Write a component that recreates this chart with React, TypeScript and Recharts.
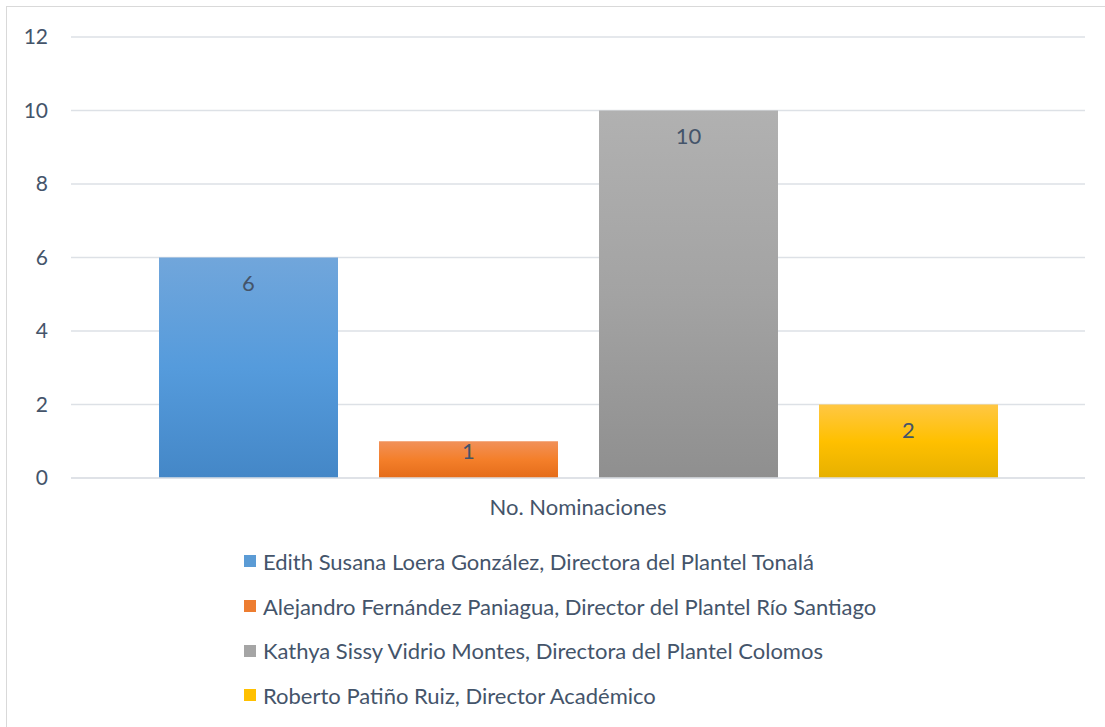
import React from 'react'
import { BarChart, Bar, XAxis, YAxis, CartesianGrid, Legend, LabelList } from 'recharts'

const category = 'No. Nominaciones'
const seriesNames = [
  'Edith Susana Loera González, Directora del Plantel Tonalá',
  'Alejandro Fernández Paniagua, Director del Plantel Río Santiago',
  'Kathya Sissy Vidrio Montes, Directora del Plantel Colomos',
  'Roberto Patiño Ruiz, Director Académico',
]
const seriesValues = [6, 1, 10, 2]
const yTicks = [0, 2, 4, 6, 8, 10, 12]

// gradient stops top / middle / bottom for each series
const gradients = [
  ['#71A6DB', '#559BDC', '#4487C7'],
  ['#F1915A', '#F47F2A', '#E46C1A'],
  ['#B1B1B1', '#A3A3A3', '#8F8F8F'],
  ['#FFC744', '#FFC000', '#E6B000'],
]
const swatch = ['#5B9BD5', '#ED7D31', '#A5A5A5', '#FFC000']

const TEXT = '#44546A'
const FONT = 'Lato, "Open Sans", sans-serif'

const row: Record<string, string | number> = { name: category }
seriesValues.forEach((v, i) => {
  row['s' + i] = v
})
const data = [row]

const renderValue = (props: any) => {
  const { x, y, width, height, value } = props
  const cy = y + Math.min(25, height / 2 - 9)
  return (
    <text
      x={x + width / 2}
      y={cy}
      textAnchor="middle"
      dominantBaseline="central"
      fill={TEXT}
      fontSize={22}
      fontFamily={FONT}
    >
      {value}
    </text>
  )
}

const renderLegend = () => (
  <div style={{ fontFamily: FONT, fontSize: 22, color: TEXT }}>
    {seriesNames.map((n, i) => (
      <div key={n} style={{ display: 'flex', alignItems: 'center', height: 44.7, whiteSpace: 'nowrap' }}>
        <span style={{ display: 'inline-block', width: 12, height: 12, background: swatch[i], marginRight: 7 }} />
        {n}
      </div>
    ))}
  </div>
)

export default function App() {
  return (
    <div style={{ position: 'absolute', left: 6, top: 6, width: 1110, height: 730, border: '1px solid #D9D9D9', boxSizing: 'border-box' }}>
      <div style={{ position: 'absolute', left: 1, top: 1 }}>
        <BarChart
          width={1097}
          height={712}
          data={data}
          margin={{ top: 29, right: 20, left: 0, bottom: 182 }}
          barCategoryGap={88}
          barGap={41}
        >
          <defs>
            {gradients.map((g, i) => (
              <linearGradient key={i} id={'grad' + i} x1="0" y1="0" x2="0" y2="1">
                <stop offset="0%" stopColor={g[0]} />
                <stop offset="50%" stopColor={g[1]} />
                <stop offset="100%" stopColor={g[2]} />
              </linearGradient>
            ))}
          </defs>
          <CartesianGrid vertical={false} stroke="#DDE1E6" strokeWidth={1.5} />
          <XAxis
            dataKey="name"
            height={60}
            axisLine={{ stroke: '#DDE1E6', strokeWidth: 1.5 }}
            tickLine={false}
            tickSize={0}
            tickMargin={21}
            tick={{ fill: TEXT, fontSize: 22, fontFamily: FONT }}
          />
          <YAxis
            width={63}
            domain={[0, 12]}
            ticks={yTicks}
            axisLine={false}
            tickLine={false}
            tickSize={0}
            tickMargin={23}
            tick={{ fill: TEXT, fontSize: 21, fontFamily: FONT }}
          />
          <Legend
            layout="vertical"
            align="center"
            verticalAlign="middle"
            content={renderLegend}
            wrapperStyle={{ top: 531, left: 236, width: 'auto' }}
          />
          {seriesNames.map((n, i) => (
            <Bar key={n} dataKey={'s' + i} name={n} fill={`url(#grad${i})`} isAnimationActive={false}>
              <LabelList dataKey={'s' + i} content={renderValue} />
            </Bar>
          ))}
        </BarChart>
      </div>
    </div>
  )
}
